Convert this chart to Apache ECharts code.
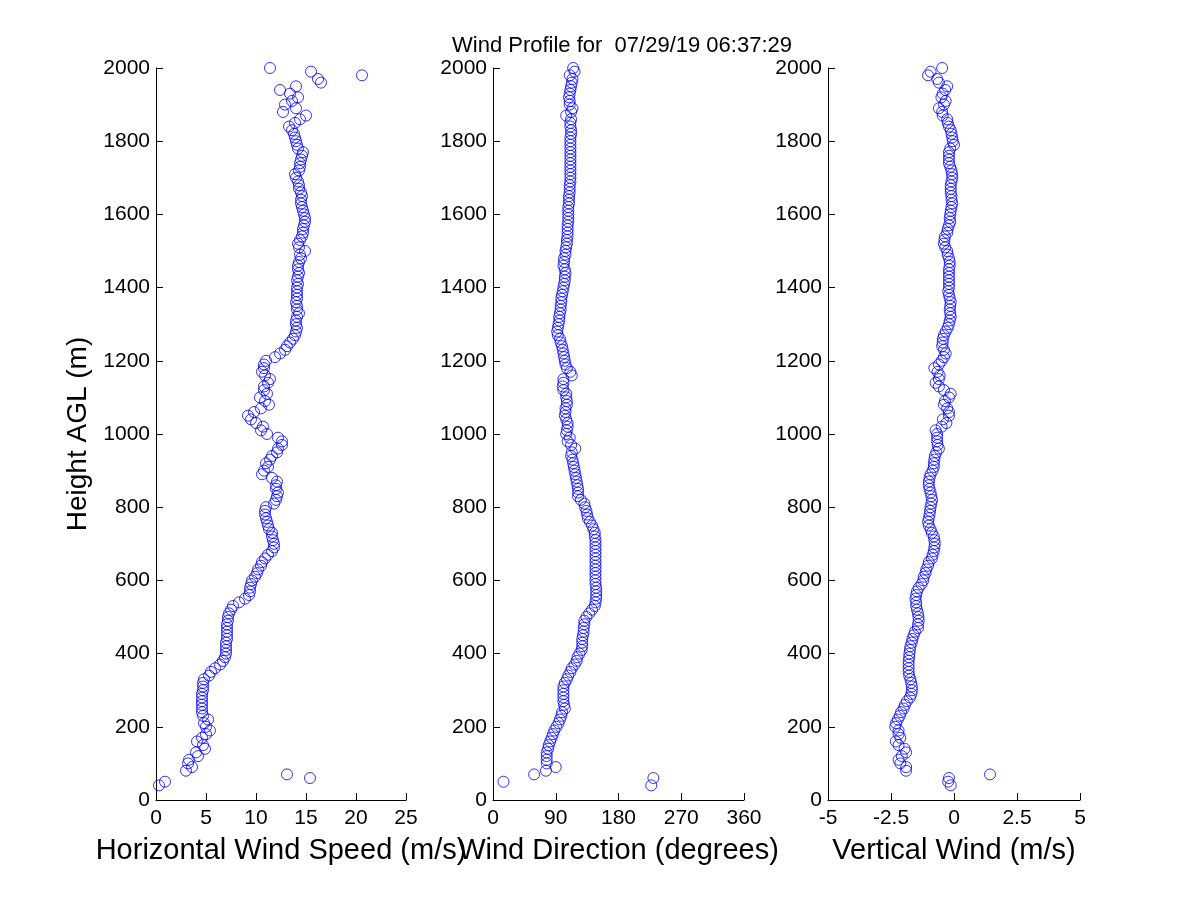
<!DOCTYPE html>
<html>
<head>
<meta charset="utf-8">
<title>Wind Profile</title>
<script src="https://cdn.jsdelivr.net/npm/echarts@6/dist/echarts.min.js"></script>
<style>
html, body { margin:0; padding:0; background:#fff; }
#chart { width:1200px; height:900px; }
</style>
</head>
<body>
<div id="chart"></div>
<script>
var titleText = "Wind Profile for  07/29/19 06:37:29";

var heights = [
	40, 50, 60, 70, 80, 90, 100, 110, 120, 130,
	140, 150, 160, 170, 180, 190, 200, 210, 220, 230,
	240, 250, 260, 270, 280, 290, 300, 310, 320, 330,
	340, 350, 360, 370, 380, 390, 400, 410, 420, 430,
	440, 450, 460, 470, 480, 490, 500, 510, 520, 530,
	540, 550, 560, 570, 580, 590, 600, 610, 620, 630,
	640, 650, 660, 670, 680, 690, 700, 710, 720, 730,
	740, 750, 760, 770, 780, 790, 800, 810, 820, 830,
	840, 850, 860, 870, 880, 890, 900, 910, 920, 930,
	940, 950, 960, 970, 980, 990, 1000, 1010, 1020, 1030,
	1040, 1050, 1060, 1070, 1080, 1090, 1100, 1110, 1120, 1130,
	1140, 1150, 1160, 1170, 1180, 1190, 1200, 1210, 1220, 1230,
	1240, 1250, 1260, 1270, 1280, 1290, 1300, 1310, 1320, 1330,
	1340, 1350, 1360, 1370, 1380, 1390, 1400, 1410, 1420, 1430,
	1440, 1450, 1460, 1470, 1480, 1490, 1500, 1510, 1520, 1530,
	1540, 1550, 1560, 1570, 1580, 1590, 1600, 1610, 1620, 1630,
	1640, 1650, 1660, 1670, 1680, 1690, 1700, 1710, 1720, 1730,
	1740, 1750, 1760, 1770, 1780, 1790, 1800, 1810, 1820, 1830,
	1840, 1850, 1860, 1870, 1880, 1890, 1900, 1910, 1920, 1930,
	1940, 1950, 1960, 1970, 1980, 1990, 2000
];

// horizontal wind speed (m/s)
var speed = [
	0.3, 0.9, 15.4, 13.1, 3.0, 3.6, 3.2, 3.3, 4.2, 4.0,
	4.9, 4.7, 4.1, 4.6, 5.0, 5.4, 5.0, 4.8, 5.2, 4.7,
	4.6, 4.6, 4.6, 4.6, 4.6, 4.6, 4.7, 4.7, 4.7, 4.8,
	5.3, 5.5, 5.9, 6.4, 6.7, 6.9, 7.0, 7.0, 7.0, 7.0,
	7.1, 7.1, 7.1, 7.1, 7.1, 7.2, 7.2, 7.3, 7.5, 7.7,
	8.3, 8.9, 9.3, 9.4, 9.4, 9.5, 9.6, 9.9, 10.1, 10.2,
	10.5, 10.6, 10.9, 11.2, 11.6, 11.8, 11.8, 11.7, 11.6, 11.6,
	11.3, 11.2, 11.1, 11.0, 10.9, 10.9, 11.0, 11.8, 12.0, 12.1,
	12.2, 12.0, 12.0, 12.1, 11.6, 10.6, 10.8, 11.2, 11.0, 11.4,
	11.6, 12.1, 12.2, 12.6, 12.6, 12.2, 11.1, 10.5, 10.7, 10.0,
	9.5, 9.2, 9.8, 10.5, 11.3, 10.9, 10.4, 11.1, 10.8, 10.8,
	11.2, 11.4, 10.9, 10.6, 10.8, 10.8, 11.0, 11.9, 12.4, 12.9,
	13.1, 13.4, 13.7, 13.9, 14.0, 14.1, 14.0, 14.0, 14.1, 14.3,
	14.1, 14.1, 14.0, 14.1, 14.1, 14.1, 14.1, 14.2, 14.1, 14.2,
	14.3, 14.2, 14.2, 14.3, 14.5, 14.4, 14.9, 14.3, 14.2, 14.4,
	14.6, 14.7, 14.7, 14.8, 14.9, 14.9, 14.8, 14.7, 14.6, 14.5,
	14.5, 14.6, 14.5, 14.3, 14.3, 14.2, 14.0, 13.9, 14.3, 14.4,
	14.4, 14.5, 14.6, 14.7, 14.2, 14.1, 14.0, 13.9, 13.8, 13.6,
	13.3, 13.9, 14.4, 15.0, 12.7, 14.0, 12.9, 13.6, 14.2, 13.4,
	12.4, 14.0, 16.5, 16.2, 20.6, 15.5, 11.4
];

// wind direction (degrees)
var direction = [
	227, 15, 230, 59, 76, 90, 77, 77, 77, 77,
	79, 80, 82, 84, 86, 88, 91, 94, 96, 98,
	99, 103, 102, 101, 101, 101, 101, 101, 103, 106,
	108, 111, 113, 117, 120, 121, 124, 127, 128, 128,
	128, 129, 130, 130, 131, 131, 134, 138, 142, 146,
	147, 148, 148, 148, 148, 147, 147, 147, 147, 147,
	147, 147, 147, 147, 147, 147, 147, 147, 146, 146,
	144, 142, 139, 136, 135, 134, 132, 131, 126, 122,
	122, 122, 121, 120, 119, 118, 117, 116, 115, 114,
	112, 113, 118, 112, 107, 110, 105, 106, 107, 107,
	105, 103, 104, 104, 106, 106, 105, 105, 101, 100,
	101, 101, 113, 111, 106, 104, 103, 102, 101, 100,
	99, 97, 96, 93, 92, 93, 94, 95, 95, 96,
	97, 97, 98, 98, 99, 100, 101, 102, 103, 103,
	104, 103, 101, 102, 102, 104, 104, 105, 106, 106,
	107, 107, 107, 107, 108, 108, 108, 108, 108, 109,
	109, 109, 110, 110, 110, 111, 111, 111, 111, 111,
	111, 111, 111, 111, 111, 111, 111, 111, 112, 112,
	111, 111, 112, 105, 112, 114, 110, 110, 109, 110,
	111, 112, 113, 114, 110, 117, 115
];

// vertical wind (m/s)
var vertical = [
	-0.13, -0.23, -0.2, 1.43, -1.9, -1.9, -2.13, -2.2, -2.07, -1.9,
	-1.96, -2.2, -2.31, -2.13, -2.2, -2.2, -2.33, -2.3, -2.23, -2.15,
	-2.1, -2.0, -1.95, -1.87, -1.75, -1.69, -1.67, -1.67, -1.7, -1.73,
	-1.78, -1.8, -1.8, -1.8, -1.8, -1.78, -1.77, -1.75, -1.73, -1.68,
	-1.65, -1.6, -1.55, -1.43, -1.43, -1.4, -1.41, -1.43, -1.47, -1.5,
	-1.5, -1.53, -1.5, -1.47, -1.4, -1.29, -1.22, -1.2, -1.13, -1.1,
	-1.03, -1.0, -0.88, -0.85, -0.8, -0.78, -0.76, -0.78, -0.8, -0.88,
	-0.93, -1.0, -1.03, -1.0, -0.97, -0.95, -0.93, -0.9, -0.87, -0.9,
	-0.93, -0.97, -1.0, -1.0, -0.97, -0.93, -0.85, -0.8, -0.8, -0.78,
	-0.76, -0.7, -0.6, -0.65, -0.67, -0.67, -0.67, -0.73, -0.49, -0.3,
	-0.44, -0.2, -0.2, -0.27, -0.4, -0.36, -0.2, -0.13, -0.4, -0.6,
	-0.73, -0.6, -0.57, -0.65, -0.78, -0.6, -0.49, -0.4, -0.33, -0.4,
	-0.47, -0.45, -0.44, -0.4, -0.33, -0.25, -0.2, -0.17, -0.13, -0.15,
	-0.17, -0.15, -0.13, -0.17, -0.2, -0.23, -0.2, -0.2, -0.2, -0.2,
	-0.2, -0.2, -0.17, -0.17, -0.2, -0.25, -0.27, -0.35, -0.4, -0.38,
	-0.36, -0.27, -0.25, -0.2, -0.15, -0.17, -0.15, -0.13, -0.1, -0.07,
	-0.1, -0.1, -0.13, -0.13, -0.13, -0.1, -0.07, -0.08, -0.1, -0.15,
	-0.2, -0.2, -0.2, -0.2, -0.15, 0.0, -0.05, -0.07, -0.1, -0.13,
	-0.2, -0.25, -0.27, -0.45, -0.47, -0.6, -0.4, -0.33, -0.5, -0.45,
	-0.35, -0.27, -0.6, -0.67, -1.03, -0.93, -0.47
];

var xNames = ["Horizontal Wind Speed (m/s)", "Wind Direction (degrees)", "Vertical Wind (m/s)"];
var xMins = [0, 0, -5];
var xMaxs = [25, 360, 5];
var xSteps = [5, 90, 2.5];
var yName = "Height AGL (m)";

var FONT = "'Liberation Sans', Arial, sans-serif";

function pairs(vals){
	var out = [];
	for(var i = 0; i < heights.length; i++){
		out.push([vals[i], heights[i]]);
	}
	return out;
}

var lefts = [156, 493, 828];
var widths = [250, 251, 252];
var grids = [], xAxes = [], yAxes = [], series = [];
var allVals = [speed, direction, vertical];

for(var i = 0; i < 3; i++){
	grids.push({left:lefts[i], top:68, width:widths[i], height:732, containLabel:false});
	xAxes.push({
		type:'value', gridIndex:i,
		min:xMins[i], max:xMaxs[i], interval:xSteps[i],
		name:xNames[i], nameLocation:'middle', nameGap:36,
		nameTextStyle:{fontFamily:FONT, fontSize:29, color:'#000'},
		axisLine:{show:true, onZero:false, lineStyle:{color:'#000', width:1}},
		axisTick:{show:true, inside:true, length:7, lineStyle:{color:'#000'}},
		axisLabel:{fontFamily:FONT, fontSize:21, color:'#000', margin:8,
			formatter:function(v){ return String(v); }},
		splitLine:{show:false}
	});
	yAxes.push({
		type:'value', gridIndex:i,
		min:0, max:2000, interval:200,
		name:(i == 0 ? yName : ''), nameLocation:'middle', nameGap:64,
		nameTextStyle:{fontFamily:FONT, fontSize:28, color:'#000'},
		axisLine:{show:true, onZero:false, lineStyle:{color:'#000', width:1}},
		axisTick:{show:true, inside:true, length:7, lineStyle:{color:'#000'}},
		axisLabel:{fontFamily:FONT, fontSize:21, color:'#000', margin:6,
			formatter:function(v){ return String(v); }},
		splitLine:{show:false}
	});
	series.push({
		type:'scatter', xAxisIndex:i, yAxisIndex:i,
		symbol:'circle', symbolSize:11,
		itemStyle:{color:'rgba(0,0,0,0)', borderColor:'#0000ff', borderWidth:1},
		data:pairs(allVals[i]),
		animation:false
	});
}

var myChart = echarts.init(document.getElementById('chart'), null, {renderer:'canvas'});
var option = {
	backgroundColor:'#fff',
	animation:false,
	title:{
		text:titleText, left:617, top:30, textAlign:'center',
		textStyle:{fontFamily:FONT, fontSize:22, fontWeight:'normal', color:'#000'}
	},
	grid:grids,
	xAxis:xAxes,
	yAxis:yAxes,
	series:series
};
myChart.setOption(option);
</script>
</body>
</html>
